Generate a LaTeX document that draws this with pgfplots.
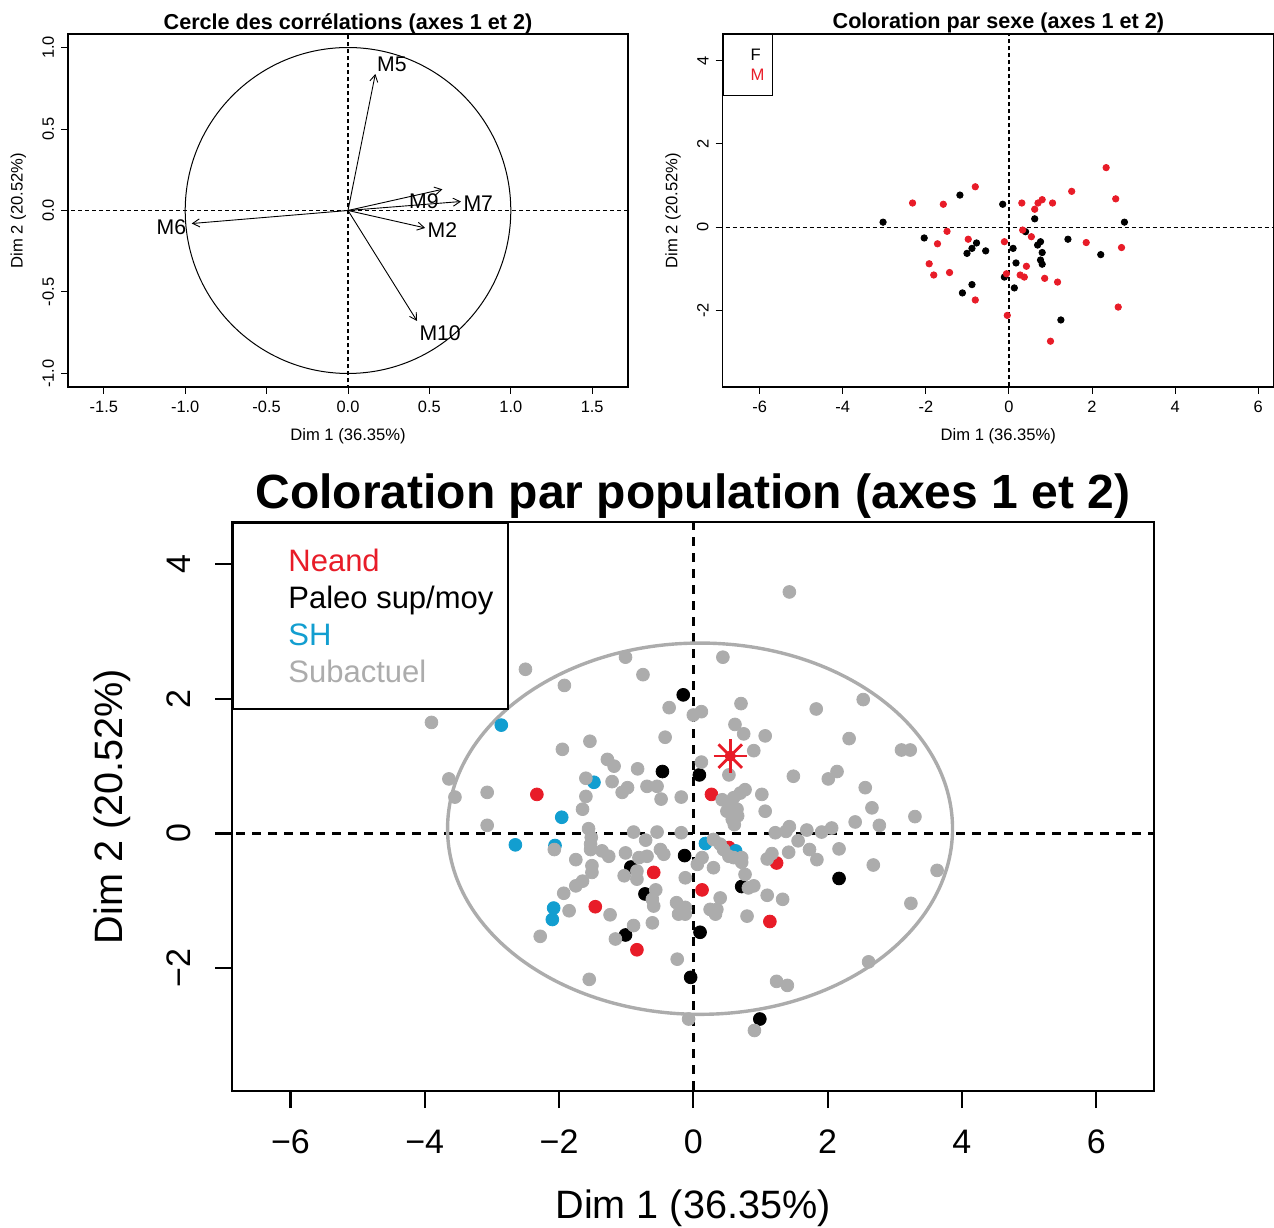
\documentclass[border=0pt]{standalone}
\usepackage{fontspec}
\setmainfont{Liberation Sans}
\usepackage{pgfplots}
\pgfplotsset{compat=1.18}
\usetikzlibrary{arrows.meta}
\definecolor{rred}{RGB}{232,28,40}
\definecolor{rblue}{RGB}{18,158,208}
\definecolor{rgray}{RGB}{172,172,172}
\pgfplotsset{
  rstyle/.style={
    scale only axis, anchor=south west,
    tick align=outside, xtick pos=left, ytick pos=left,
    /pgf/number format/assume math mode=true,
    yticklabel style={rotate=90, anchor=south},
    xlabel style={anchor=center},
    ylabel style={anchor=center},
    title style={anchor=center},
  },
}
\begin{document}
\begin{tikzpicture}
\path[use as bounding box] (0,0) rectangle (637pt,613.5pt);
% ---------- top left: correlation circle
\begin{axis}[rstyle,
  at={(34pt,420pt)}, width=280pt, height=176.5pt,
  xmin=-1.72, xmax=1.72, ymin=-1.083, ymax=1.083,
  xtick={-1.5,-1,-0.5,0,0.5,1,1.5},
  xticklabels={-1.5,-1.0,-0.5,0.0,0.5,1.0,1.5},
  ytick={-1,-0.5,0,0.5,1},
  yticklabels={-1.0,-0.5,0.0,0.5,1.0},
  major tick length=3.5pt,
  tick style={black, line width=0.5pt},
  axis line style={line width=0.6pt},
  ticklabel style={font=\fontsize{8.2}{9}\selectfont},
  xlabel={Dim 1 (36.35\%)}, ylabel={Dim 2 (20.52\%)},
  label style={font=\fontsize{8.3}{9}\selectfont},
  xlabel style={at={(axis description cs:0.5,-0.139)}},
  ylabel style={at={(axis description cs:-0.0886,0.5)}},
  title={Cercle des corrélations (axes 1 et 2)},
  title style={font=\bfseries\fontsize{10.8}{12}\selectfont, at={(axis description cs:0.5,0.996)}},
]
\addplot[black, line width=0.6pt, dash pattern=on 2pt off 1.5pt] coordinates {(-2,0) (2,0)};
\addplot[black, line width=0.6pt, dash pattern=on 2pt off 1.5pt] coordinates {(0,-2) (0,2)};
\draw[black, line width=0.5pt] (axis cs:0,0) ellipse [x radius=1, y radius=1];
\addplot[black, line width=0.45pt, -{Straight Barb[length=3.5pt,width=4pt]}] coordinates {(0,0) (0.168,0.838)};
\addplot[black, line width=0.45pt, -{Straight Barb[length=3.5pt,width=4pt]}] coordinates {(0,0) (-0.96,-0.08)};
\addplot[black, line width=0.45pt, -{Straight Barb[length=3.5pt,width=4pt]}] coordinates {(0,0) (0.58,0.13)};
\addplot[black, line width=0.45pt, -{Straight Barb[length=3.5pt,width=4pt]}] coordinates {(0,0) (0.694,0.055)};
\addplot[black, line width=0.45pt, -{Straight Barb[length=3.5pt,width=4pt]}] coordinates {(0,0) (0.474,-0.107)};
\addplot[black, line width=0.45pt, -{Straight Barb[length=3.5pt,width=4pt]}] coordinates {(0,0) (0.424,-0.678)};
\node[font=\fontsize{10.6}{12}\selectfont, inner sep=0pt] at (axis cs:0.27,0.90) {M5};
\node[font=\fontsize{10.6}{12}\selectfont, inner sep=0pt] at (axis cs:-1.085,-0.10) {M6};
\node[font=\fontsize{10.6}{12}\selectfont, inner sep=0pt] at (axis cs:0.466,0.057) {M9};
\node[font=\fontsize{10.6}{12}\selectfont, inner sep=0pt] at (axis cs:0.80,0.043) {M7};
\node[font=\fontsize{10.6}{12}\selectfont, inner sep=0pt] at (axis cs:0.58,-0.12) {M2};
\node[font=\fontsize{10.6}{12}\selectfont, inner sep=0pt] at (axis cs:0.566,-0.75) {M10};
\end{axis}
% ---------- top right: sex
\begin{axis}[rstyle,
  at={(361.35pt,420pt)}, width=275.65pt, height=176.5pt,
  xmin=-6.89, xmax=6.38, ymin=-3.84, ymax=4.64,
  xtick={-6,-4,-2,0,2,4,6}, ytick={-2,0,2,4},
  major tick length=3.5pt,
  tick style={black, line width=0.5pt},
  axis line style={line width=0.6pt},
  ticklabel style={font=\fontsize{8.2}{9}\selectfont},
  xlabel={Dim 1 (36.35\%)}, ylabel={Dim 2 (20.52\%)},
  label style={font=\fontsize{8.3}{9}\selectfont},
  xlabel style={at={(axis description cs:0.5,-0.139)}},
  ylabel style={at={(axis description cs:-0.0899,0.5)}},
  title={Coloration par sexe (axes 1 et 2)},
  title style={font=\bfseries\fontsize{10.8}{12}\selectfont, at={(axis description cs:0.5,0.996)}},
]
\addplot[black, line width=0.6pt, dash pattern=on 2pt off 1.5pt] coordinates {(-8,0) (8,0)};
\addplot[black, line width=0.6pt, dash pattern=on 2pt off 1.5pt] coordinates {(0,-5) (0,5)};
\addplot[only marks, mark=*, mark size=1.6pt, color=black] coordinates {
(-1.18,0.77) (-0.15,0.55) (0.62,0.20) (-3.03,0.12) (2.78,0.12) (0.40,-0.11)
(-2.04,-0.26) (-0.78,-0.38) (-0.89,-0.51) (-1.01,-0.63) (-0.56,-0.57) (0.10,-0.51)
(0.76,-0.35) (0.69,-0.43) (0.80,-0.61) (1.42,-0.29) (2.21,-0.66) (0.17,-0.86)
(0.76,-0.79) (0.80,-0.89) (-0.11,-1.20) (-0.89,-1.38) (-1.12,-1.58) (0.13,-1.46)
(1.25,-2.23)};
\addplot[only marks, mark=*, mark size=1.6pt, color=rred] coordinates {
(2.34,1.43) (-0.81,0.97) (1.51,0.86) (-2.32,0.58) (-1.58,0.55) (0.31,0.58)
(0.70,0.58) (0.80,0.66) (1.05,0.58) (0.62,0.43) (2.57,0.68) (-1.49,-0.10)
(-0.98,-0.29) (-1.72,-0.40) (-0.11,-0.35) (0.33,-0.07) (0.54,-0.23) (1.86,-0.37)
(2.71,-0.49) (-1.92,-0.88) (-1.81,-1.15) (-1.43,-1.09) (-0.06,-1.12) (0.27,-1.15)
(0.37,-1.20) (0.42,-0.94) (0.86,-1.23) (1.17,-1.32) (-0.81,-1.75) (-0.04,-2.12)
(2.63,-1.92) (1.00,-2.74)};
\node[draw, line width=0.6pt, anchor=north west, minimum width=24.65pt, minimum height=30.35pt, inner sep=0pt] at (rel axis cs:0,1) {};
\node[anchor=base west, inner sep=0pt, font=\fontsize{8.3}{9}\selectfont] at ([xshift=13.7pt,yshift=-13.35pt]rel axis cs:0,1) {F};
\node[anchor=base west, inner sep=0pt, text=rred, font=\fontsize{8.3}{9}\selectfont] at ([xshift=13.7pt,yshift=-23.35pt]rel axis cs:0,1) {M};
\end{axis}
% ---------- bottom: population
\begin{axis}[rstyle,
  at={(116pt,68pt)}, width=461pt, height=284.5pt,
  xmin=-6.87, xmax=6.86, ymin=-3.83, ymax=4.63,
  xtick={-6,-4,-2,0,2,4,6}, xticklabels={−6,−4,−2,0,2,4,6},
  ytick={-2,0,2,4}, yticklabels={−2,0,2,4},
  major tick length=8.5pt,
  xticklabel shift=7.5pt, yticklabel shift=8.5pt,
  tick style={black, line width=1.1pt},
  axis line style={line width=1.2pt},
  ticklabel style={font=\fontsize{17}{19}\selectfont},
  xlabel={Dim 1 (36.35\%)}, ylabel={Dim 2 (20.52\%)},
  label style={font=\fontsize{19.8}{22}\selectfont},
  xlabel style={at={(axis description cs:0.5,-0.2056)}},
  ylabel style={at={(axis description cs:-0.130,0.5)}},
  title={Coloration par population (axes 1 et 2)},
  title style={font=\bfseries\fontsize{24}{27}\selectfont, at={(axis description cs:0.5,1.0247)}},
]
\addplot[black, line width=1.2pt, dash pattern=on 4.5pt off 3.5pt] coordinates {(-8,0) (8,0)};
\addplot[black, line width=1.2pt, dash pattern=on 4.5pt off 3.5pt] coordinates {(0,-5) (0,5)};
\draw[rgray, line width=1.7pt] (axis cs:0.10,0.07) ellipse [x radius=3.76, y radius=2.76];
\addplot[only marks, mark=*, mark size=3.2pt, color=black] coordinates {
(-0.15,2.06) (-0.46,0.92) (0.09,0.87) (-0.13,-0.33) (-0.93,-0.50) (-0.72,-0.90)
(0.72,-0.79) (-1.01,-1.51) (0.10,-1.47) (-0.04,-2.14) (0.99,-2.76) (2.17,-0.67)};
\addplot[only marks, mark=*, mark size=3.2pt, color=rred] coordinates {
(-2.33,0.58) (0.27,0.58) (-0.59,-0.58) (0.53,-0.21) (0.13,-0.84) (-1.46,-1.09)
(-0.84,-1.73) (1.14,-1.31) (1.24,-0.44)};
\addplot[only marks, mark=*, mark size=3.2pt, color=rblue] coordinates {
(-2.86,1.61) (-1.48,0.76) (-1.96,0.24) (-2.65,-0.17) (-2.06,-0.18) (-2.08,-1.11)
(-2.10,-1.28) (0.18,-0.15) (0.63,-0.26)};
\addplot[only marks, mark=*, mark size=3.2pt, color=rgray] coordinates {
(1.43,3.59) (-1.01,2.62) (0.44,2.62) (-2.50,2.44) (-0.75,2.36) (-1.92,2.20)
(-0.36,1.87) (0.71,1.93) (0.00,1.76) (0.12,1.81) (-3.90,1.65) (0.62,1.62)
(0.75,1.48) (1.07,1.45) (-0.42,1.43) (-1.54,1.37) (-1.95,1.25) (0.90,1.23)
(-1.28,1.10) (-1.18,1.00) (-0.83,0.96) (0.12,1.06) (0.53,0.87) (-3.64,0.81)
(-1.60,0.82) (-1.21,0.77) (-0.98,0.68) (-1.06,0.61) (-0.69,0.70) (-0.54,0.70)
(1.49,0.85) (-3.07,0.61) (-3.55,0.54) (-1.60,0.55) (-1.65,0.36) (-0.48,0.51)
(-0.18,0.54) (0.43,0.50) (0.60,0.53) (0.70,0.60) (0.77,0.65) (0.55,0.41)
(0.50,0.33) (0.65,0.36) (0.66,0.26) (0.58,0.21) (0.61,0.13) (1.02,0.58)
(1.07,0.33) (-3.07,0.12) (1.22,0.01) (1.38,0.03) (1.43,0.10) (-1.56,0.07)
(-1.52,-0.06) (-1.53,-0.16) (-1.53,-0.24) (-0.89,0.02) (-0.71,-0.10) (-0.54,0.02)
(-0.18,0.01) (1.83,1.85) (2.53,1.99) (2.32,1.41) (3.10,1.24) (3.23,1.24)
(2.01,0.81) (2.14,0.92) (2.56,0.68) (2.66,0.38) (3.30,0.25) (2.41,0.17)
(2.77,0.12) (1.69,0.05) (1.91,0.02) (2.06,0.08) (1.56,-0.11) (1.73,-0.24)
(1.84,-0.39) (2.17,-0.23) (2.68,-0.47) (3.63,-0.55) (1.42,-0.28) (1.10,-0.38)
(1.17,-0.30) (1.10,-0.92) (1.33,-0.98) (0.80,-1.23) (3.24,-1.04) (2.61,-1.91)
(1.24,-2.20) (1.40,-2.26) (0.91,-2.93) (0.30,-0.09) (0.40,-0.16) (0.45,-0.24)
(0.53,-0.34) (0.60,-0.36) (0.72,-0.36) (0.72,-0.43) (0.13,-0.36) (0.06,-0.46)
(0.30,-0.51) (0.77,-0.61) (0.40,-0.96) (0.25,-1.13) (0.35,-1.13) (0.33,-1.20)
(0.82,-0.81) (0.90,-0.78) (-0.12,-0.66) (-0.24,-1.87) (-0.07,-2.76) (-1.75,-0.39)
(-1.36,-0.26) (-1.26,-0.34) (-1.51,-0.48) (-1.51,-0.58) (-1.65,-0.71) (-1.75,-0.78)
(-1.93,-0.89) (-1.85,-1.15) (-2.07,-0.24) (-2.28,-1.53) (-1.24,-1.21) (-1.55,-2.17)
(-1.01,-0.29) (-0.81,-0.36) (-0.69,-0.34) (-0.49,-0.24) (-0.44,-0.31) (-1.03,-0.63)
(-0.84,-0.68) (-0.84,-0.56) (-0.56,-0.84) (-0.61,-0.98) (-0.59,-1.08) (-0.89,-1.37)
(-1.16,-1.57) (-0.61,-1.33) (-0.25,-1.03) (-0.12,-1.10) (-0.12,-1.20) (-0.22,-1.20)};
\addplot[only marks, mark=*, mark size=2.6pt, color=rred] coordinates {(0.55,1.15)};
\addplot[only marks, mark=+, mark size=8.3pt, color=rred, mark options={line width=1.4pt}] coordinates {(0.55,1.15)};
\addplot[only marks, mark=x, mark size=8.3pt, color=rred, mark options={line width=1.4pt}] coordinates {(0.55,1.15)};
\node[draw, line width=1pt, anchor=north west, minimum width=137.5pt, minimum height=93pt, inner sep=0pt, fill=white] at (rel axis cs:0,1) {};
\node[anchor=base west, inner sep=0pt, text=rred, font=\fontsize{15.5}{18}\selectfont] at ([xshift=28pt,yshift=-25pt]rel axis cs:0,1) {Neand};
\node[anchor=base west, inner sep=0pt, text=black, font=\fontsize{15.5}{18}\selectfont] at ([xshift=28pt,yshift=-43.5pt]rel axis cs:0,1) {Paleo sup/moy};
\node[anchor=base west, inner sep=0pt, text=rblue, font=\fontsize{15.5}{18}\selectfont] at ([xshift=28pt,yshift=-62pt]rel axis cs:0,1) {SH};
\node[anchor=base west, inner sep=0pt, text=rgray, font=\fontsize{15.5}{18}\selectfont] at ([xshift=28pt,yshift=-80.5pt]rel axis cs:0,1) {Subactuel};
\end{axis}
\end{tikzpicture}
\end{document}
